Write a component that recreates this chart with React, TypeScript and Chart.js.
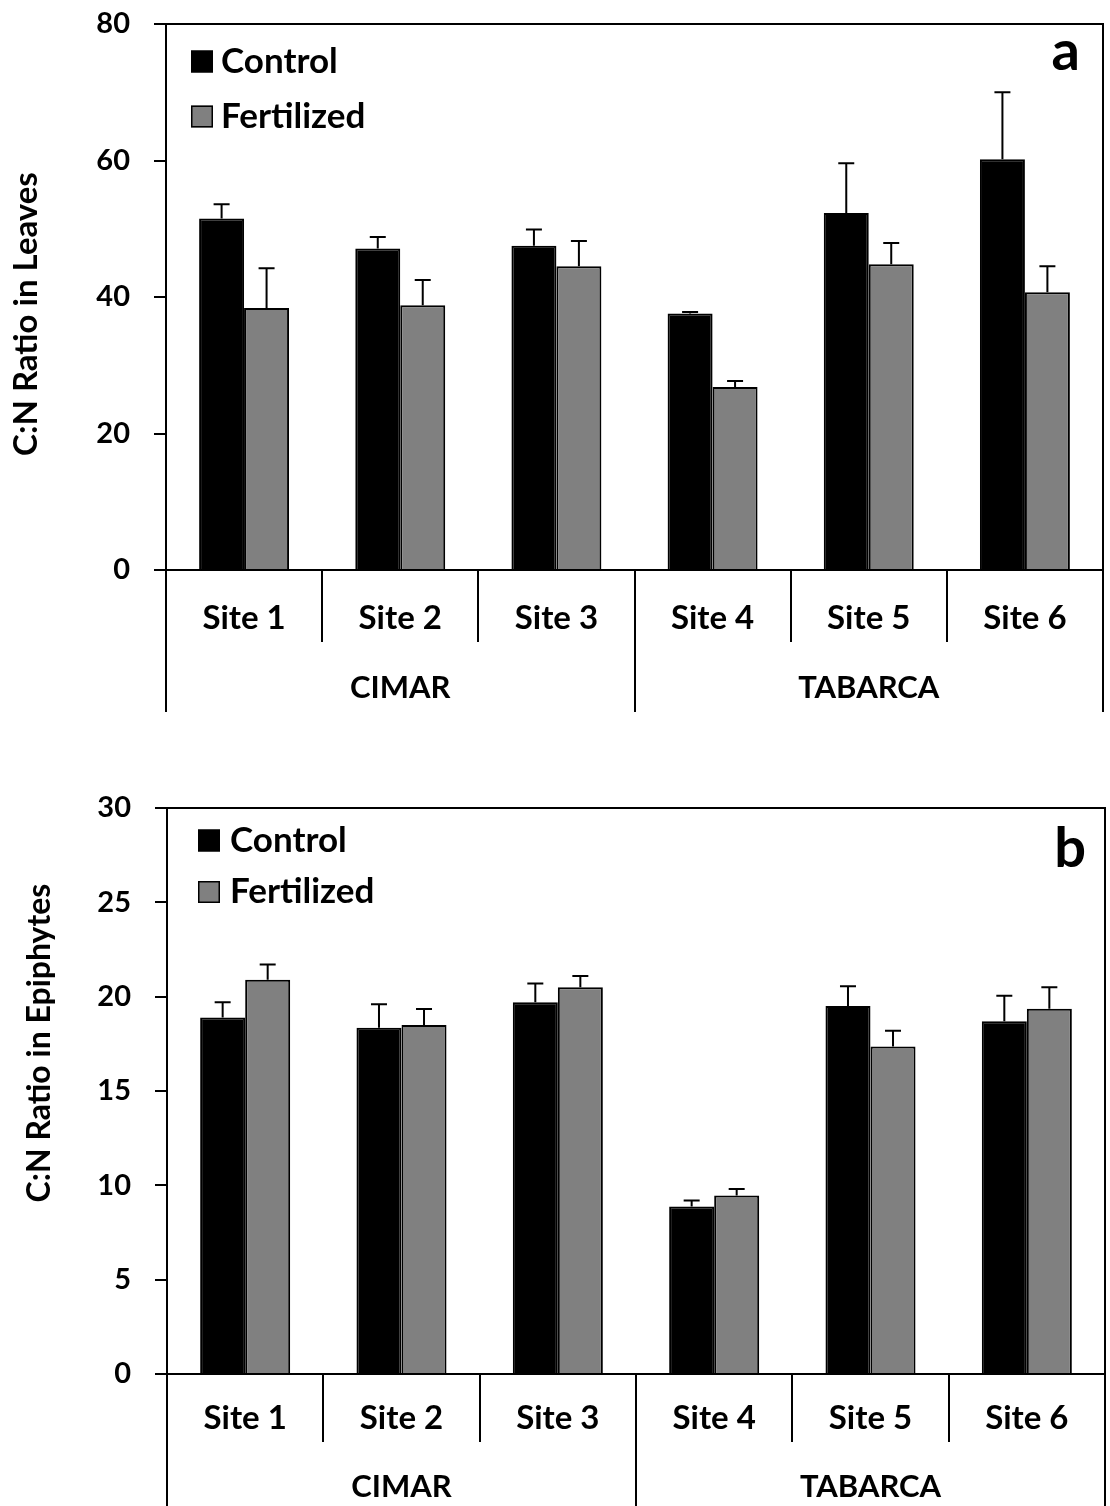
import React, { useEffect, useRef } from 'react';
import { Chart, registerables } from 'chart.js';

Chart.register(...registerables);

// ---------- data ----------
const sites = ['Site 1', 'Site 2', 'Site 3', 'Site 4', 'Site 5', 'Site 6'];
const groups = ['CIMAR', 'TABARCA'];
const seriesNames = ['Control', 'Fertilized'];

const leavesControl = [51.5, 47.1, 47.5, 37.6, 52.3, 60.2];
const leavesControlErr = [2.1, 1.7, 2.4, 0.2, 7.3, 9.8];
const leavesFertilized = [38.4, 38.8, 44.5, 26.8, 44.8, 40.7];
const leavesFertilizedErr = [5.8, 3.7, 3.7, 0.9, 3.1, 3.8];
const leavesAxis = { max: 80, step: 20 };

const epiControl = [18.9, 18.35, 19.7, 8.88, 19.5, 18.7];
const epiControlErr = [0.8, 1.25, 1.0, 0.32, 1.05, 1.35];
const epiFertilized = [20.9, 18.5, 20.5, 9.46, 17.36, 19.36];
const epiFertilizedErr = [0.8, 0.85, 0.6, 0.34, 0.84, 1.14];
const epiAxis = { max: 30, step: 5 };

// ---------- style ----------
const FONT = 'Lato, "Noto Sans", sans-serif';
const GREY = '#808080';

type PanelCfg = {
  top: number;
  height: number;
  padTop: number;
  axisX: number;
  padRight: number;
  zeroY: number;
  siteBand: number;
  siteLabelOffset: number;
  groupLabelOffset: number;
  yMax: number;
  yStep: number;
  title: string;
  titleSize: number;
  titleX: number;
  titleY: number;
  legendX: number;
  legendY1: number;
  legendY2: number;
  legendTextX: number;
  letter: string;
  letterX: number;
  letterY: number;
  control: number[];
  controlErr: number[];
  fert: number[];
  fertErr: number[];
};

function Panel({ cfg }: { cfg: PanelCfg }) {
  const ref = useRef<HTMLCanvasElement>(null);

  useEffect(() => {
    const canvas = ref.current;
    if (!canvas) return;
    const siteFont = { family: FONT, size: 33, weight: 'bold' as const };
    const groupFont = { family: FONT, size: 31, weight: 'bold' as const };
    const groupBand = cfg.height - cfg.zeroY - cfg.siteBand;
    const groupTick = Math.min(groupBand, 70);

    const decor = {
      id: 'decor',
      afterDatasetsDraw(chart: any) {
        const ctx = chart.ctx;
        const ys = chart.scales.y;
        ctx.save();
        ctx.strokeStyle = '#000';
        ctx.lineWidth = 2;
        chart.data.datasets.forEach((ds: any, i: number) => {
          const meta = chart.getDatasetMeta(i);
          meta.data.forEach((bar: any, j: number) => {
            const v = ds.data[j];
            const e = ds.errors[j];
            const yTop = ys.getPixelForValue(v + e);
            ctx.beginPath();
            ctx.moveTo(bar.x, bar.y);
            ctx.lineTo(bar.x, yTop);
            ctx.moveTo(bar.x - 8, yTop);
            ctx.lineTo(bar.x + 8, yTop);
            ctx.stroke();
          });
        });
        ctx.restore();
      },
      afterDraw(chart: any) {
        const ctx = chart.ctx;
        const a = chart.chartArea;
        ctx.save();
        // frame
        ctx.strokeStyle = '#000';
        ctx.lineWidth = 2;
        ctx.beginPath();
        ctx.moveTo(a.left, a.top);
        ctx.lineTo(a.right, a.top);
        ctx.lineTo(a.right, a.bottom);
        ctx.stroke();

        // legend
        const ys = [cfg.legendY1, cfg.legendY2];
        chart.data.datasets.forEach((ds: any, i: number) => {
          const cy = ys[i];
          ctx.fillStyle = ds.backgroundColor;
          ctx.fillRect(cfg.legendX, cy - 11, 22, 22);
          ctx.lineWidth = 1.5;
          ctx.strokeStyle = '#000';
          ctx.strokeRect(cfg.legendX + 0.75, cy - 10.25, 20.5, 20.5);
          ctx.fillStyle = '#000';
          ctx.font = `bold 35px ${FONT}`;
          ctx.textAlign = 'left';
          ctx.textBaseline = 'middle';
          ctx.fillText(ds.label, cfg.legendTextX, cy);
        });

        // panel letter
        ctx.font = `bold 56px ${FONT}`;
        ctx.textAlign = 'right';
        ctx.textBaseline = 'alphabetic';
        ctx.fillStyle = '#000';
        ctx.fillText(cfg.letter, cfg.letterX, cfg.letterY);

        // y title
        ctx.translate(cfg.titleX, cfg.titleY);
        ctx.rotate(-Math.PI / 2);
        ctx.font = `bold ${cfg.titleSize}px ${FONT}`;
        ctx.textAlign = 'center';
        ctx.textBaseline = 'alphabetic';
        ctx.fillText(cfg.title, 0, 0);
        ctx.restore();
      },
    };

    const chart = new Chart(canvas, {
      type: 'bar',
      data: {
        labels: sites,
        datasets: [
          {
            label: seriesNames[0],
            data: cfg.control,
            errors: cfg.controlErr,
            backgroundColor: '#000000',
            borderColor: '#000000',
            borderWidth: 2,
            xAxisID: 'x',
            yAxisID: 'y',
          } as any,
          {
            label: seriesNames[1],
            data: cfg.fert,
            errors: cfg.fertErr,
            backgroundColor: GREY,
            borderColor: '#000000',
            borderWidth: 2,
            xAxisID: 'x',
            yAxisID: 'y',
          } as any,
        ],
      },
      options: {
        responsive: false,
        animation: false,
        events: [],
        datasets: { bar: { barPercentage: 1, categoryPercentage: 0.576 } },
        layout: { padding: { top: cfg.padTop, right: cfg.padRight, left: 0, bottom: 0 } },
        plugins: { legend: { display: false }, tooltip: { enabled: false }, title: { display: false } },
        scales: {
          x: {
            type: 'category',
            position: 'bottom',
            weight: 0,
            offset: true,
            grid: {
              offset: true,
              drawOnChartArea: false,
              drawTicks: true,
              tickLength: cfg.siteBand,
              color: '#000',
              lineWidth: 2,
            },
            border: { display: true, color: '#000', width: 2 },
            ticks: {
              autoSkip: false,
              maxRotation: 0,
              minRotation: 0,
              color: '#000',
              font: siteFont,
              padding: cfg.siteLabelOffset - cfg.siteBand - (siteFont.size * 1.2) / 2,
            },
            afterFit: (s: any) => {
              s.height = cfg.siteBand;
              s.paddingLeft = 0;
              s.paddingRight = 0;
            },
          },
          x2: {
            type: 'category',
            labels: groups,
            position: 'bottom',
            weight: 1,
            offset: true,
            grid: {
              offset: true,
              drawOnChartArea: false,
              drawTicks: true,
              tickLength: groupTick,
              color: '#000',
              lineWidth: 2,
            },
            border: { display: false },
            ticks: {
              autoSkip: false,
              maxRotation: 0,
              minRotation: 0,
              color: '#000',
              font: groupFont,
              padding: cfg.groupLabelOffset - groupTick - (groupFont.size * 1.2) / 2,
            },
            afterFit: (s: any) => {
              s.height = groupBand;
              s.paddingLeft = 0;
              s.paddingRight = 0;
            },
          },
          y: {
            min: 0,
            max: cfg.yMax,
            grid: {
              drawOnChartArea: false,
              drawTicks: true,
              tickLength: 12,
              color: '#000',
              lineWidth: 2,
            },
            border: { display: true, color: '#000', width: 2 },
            ticks: {
              stepSize: cfg.yStep,
              padding: 24,
              color: '#000',
              font: { family: FONT, size: 29, weight: 'bold' },
            },
            afterFit: (s: any) => {
              s.width = cfg.axisX;
              s.paddingTop = 0;
              s.paddingBottom = 0;
            },
          },
        },
      } as any,
      plugins: [decor],
    });
    return () => chart.destroy();
  }, [cfg]);

  return (
    <canvas
      ref={ref}
      width={1110}
      height={cfg.height}
      style={{ position: 'absolute', left: 0, top: cfg.top, display: 'block', width: 1110, height: cfg.height }}
    />
  );
}

const panelA: PanelCfg = {
  top: 0,
  height: 760,
  padTop: 24,
  axisX: 166,
  padRight: 7,
  zeroY: 570,
  siteBand: 72,
  siteLabelOffset: 48,
  groupLabelOffset: 46,
  yMax: leavesAxis.max,
  yStep: leavesAxis.step,
  title: 'C:N Ratio in Leaves',
  titleSize: 33,
  titleX: 37,
  titleY: 314,
  legendX: 191,
  legendY1: 61.5,
  legendY2: 116.5,
  legendTextX: 221,
  letter: 'a',
  letterX: 1080,
  letterY: 70,
  control: leavesControl,
  controlErr: leavesControlErr,
  fert: leavesFertilized,
  fertErr: leavesFertilizedErr,
};

const panelB: PanelCfg = {
  top: 760,
  height: 746,
  padTop: 48,
  axisX: 167,
  padRight: 5,
  zeroY: 614,
  siteBand: 68,
  siteLabelOffset: 44,
  groupLabelOffset: 45,
  yMax: epiAxis.max,
  yStep: epiAxis.step,
  title: 'C:N Ratio in Epiphytes',
  titleSize: 32,
  titleX: 50,
  titleY: 283,
  legendX: 198,
  legendY1: 80.5,
  legendY2: 132,
  legendTextX: 230,
  letter: 'b',
  letterX: 1086,
  letterY: 107,
  control: epiControl,
  controlErr: epiControlErr,
  fert: epiFertilized,
  fertErr: epiFertilizedErr,
};

export default function App() {
  return (
    <div style={{ position: 'absolute', left: 0, top: 0, width: 1110, height: 1506, background: '#fff', overflow: 'hidden' }}>
      <Panel cfg={panelA} />
      <Panel cfg={panelB} />
    </div>
  );
}
